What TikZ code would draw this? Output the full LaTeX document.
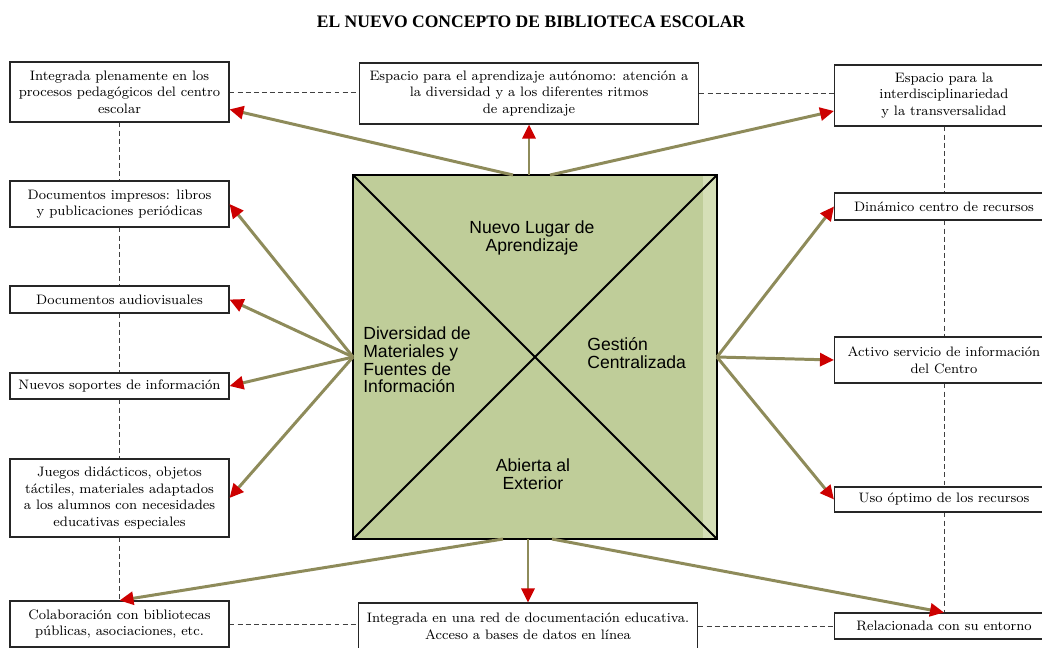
\documentclass[tikz,border=0pt]{standalone}
\usepackage{fontspec}
\newfontfamily\sqfont{Liberation Sans}
\newfontfamily\titlefont{Liberation Serif}
\usetikzlibrary{arrows.meta,positioning,calc}
\definecolor{sqgreen}{RGB}{191,205,153}
\definecolor{sqlight}{RGB}{213,223,183}
\definecolor{arrolive}{RGB}{142,139,90}
\definecolor{arrred}{RGB}{205,0,0}
\begin{document}
\begin{tikzpicture}
[x=0.02cm,y=-0.02cm,
 bx/.style={draw=black!85,line width=0.6pt,fill=white,align=center,inner sep=1pt,font=\fontsize{7.8}{9.5}\selectfont},
 lb/.style={bx,minimum width=4.38cm},
 wb/.style={bx,minimum width=6.8cm},
 sqtxt/.style={font=\sqfont\fontsize{10}{10}\selectfont,align=center,inner sep=0pt},
 arr/.style={draw=arrolive,line width=1.7pt,-{Triangle[color=arrred,length=0.28cm,width=0.26cm]}},
 dl/.style={draw=black!75,line width=0.5pt,dash pattern=on 2.8pt off 1.8pt}]
\useasboundingbox (0,0) rectangle (1042,647);
\node[font=\titlefont\bfseries\fontsize{10}{12}\selectfont] (title) at (531,22) {EL NUEVO CONCEPTO DE BIBLIOTECA ESCOLAR};
\node[fill=sqgreen,minimum size=7.28cm,inner sep=0pt,outer sep=0pt] (sq) at (535,357) {};
\fill[sqlight] ($(sq.north east)+(-14,0)$) rectangle (sq.south east);
\draw[line width=1.1pt] (sq.north west) -- (sq.south east);
\draw[line width=1.1pt] (sq.south west) -- (sq.north east);
\draw[line width=1.5pt] (sq.north west) rectangle (sq.south east);
\node[sqtxt] (lugar) at (532,238) {Nuevo Lugar de\\Aprendizaje};
\node[sqtxt,anchor=west,align=left] (divers) at (363,360) {Diversidad de\\Materiales y\\Fuentes de\\Información};
\node[sqtxt,anchor=west,align=left] (gestion) at (587,353) {Gestión\\Centralizada};
\node[sqtxt] (abierta) at (533,474) {Abierta al\\Exterior};
\node[lb,minimum height=1.2cm] (b1) at (119.5,92) {Integrada plenamente en los\\procesos pedagógicos del centro\\escolar};
\node[wb,minimum height=1.22cm] (b2) at (529,93.5) {Espacio para el aprendizaje autónomo: atención a\\la diversidad y a los diferentes ritmos\\de aprendizaje};
\node[lb,minimum height=1.22cm] (b3) at (944,95.5) {Espacio para la\\interdisciplinariedad\\y la transversalidad};
\node[lb,minimum height=0.92cm] (b4) at (119.5,204) {Documentos impresos: libros\\y publicaciones periódicas};
\node[lb,minimum height=0.54cm] (b5) at (119.5,299.5) {Documentos audiovisuales};
\node[lb,minimum height=0.52cm] (b6) at (119.5,386) {Nuevos soportes de información};
\node[lb,minimum height=1.56cm] (b7) at (119.5,498) {Juegos didácticos, objetos\\táctiles, materiales adaptados\\a los alumnos con necesidades\\educativas especiales};
\node[lb,minimum height=0.92cm] (b8) at (119.5,624) {Colaboración con bibliotecas\\públicas, asociaciones, etc.};
\node[wb,minimum height=0.92cm] (b9) at (528,626) {Integrada en una red de documentación educativa.\\Acceso a bases de datos en línea};
\node[lb,minimum height=0.54cm] (b11) at (944,206.5) {Dinámico centro de recursos};
\node[lb,minimum height=0.92cm] (b12) at (944,360) {Activo servicio de información\\del Centro};
\node[lb,minimum height=0.5cm] (b13) at (944,499.5) {Uso óptimo de los recursos};
\node[lb,minimum height=0.52cm] (b10) at (944,626) {Relacionada con su entorno};
\coordinate (n1) at (513,175);
\coordinate (n2) at (529,175);
\coordinate (n3) at (550,175);
\coordinate (s1) at (503,539);
\coordinate (s2) at (528,539);
\coordinate (s3) at (552,539);
\draw[dl] (b1.east) -- (b1.east -| b2.west);
\draw[dl] (b2.east) -- (b2.east -| b3.west);
\draw[dl] (b8.east) -- (b8.east -| b9.west);
\draw[dl] (b9.east) -- (b9.east -| b10.west);
\draw[dl] (b1.south) -- (b4.north);
\draw[dl] (b4.south) -- (b5.north);
\draw[dl] (b5.south) -- (b6.north);
\draw[dl] (b6.south) -- (b7.north);
\draw[dl] (b7.south) -- (b8.north);
\draw[dl] (b3.south) -- (b11.north);
\draw[dl] (b11.south) -- (b12.north);
\draw[dl] (b12.south) -- (b13.north);
\draw[dl] (b13.south) -- (b10.north);
\draw[arr] (n1) -- (b1.-9);
\draw[arr] (n2) -- (b2.south);
\draw[arr] (n3) -- (b3.188);
\draw[arr] (sq.west) -- (b4.east);
\draw[arr] (sq.west) -- (b5.east);
\draw[arr] (sq.west) -- (b6.east);
\draw[arr] (sq.west) -- (b7.east);
\draw[arr] (sq.east) -- (b11.west);
\draw[arr] (sq.east) -- (b12.west);
\draw[arr] (sq.east) -- (b13.west);
\draw[arr] (s1) -- (b8.north);
\draw[arr] (s2) -- (b9.north);
\draw[arr] (s3) -- (b10.north);
\end{tikzpicture}
\end{document}
